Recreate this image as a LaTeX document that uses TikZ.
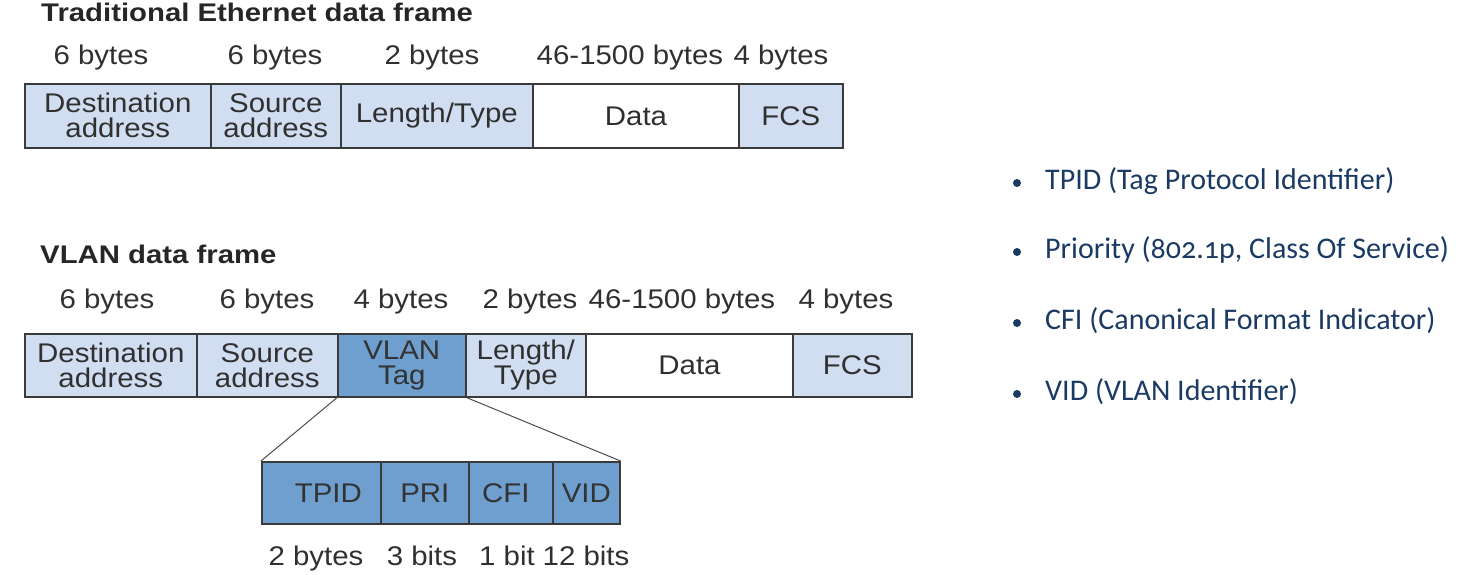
\documentclass[tikz,border=0pt]{standalone}
\usepackage{fontspec}
\setmainfont[FakeStretch=1.09]{Liberation Sans}
\newfontfamily\titlefont[FakeStretch=1.15]{Liberation Sans}
\newfontfamily\bulletfont[Numbers=OldStyle]{Carlito}
\definecolor{lightfill}{HTML}{D1DEF1}
\definecolor{midfill}{HTML}{6E9FCF}
\definecolor{framecol}{HTML}{3A3A3A}
\definecolor{txtcol}{HTML}{303030}
\definecolor{navy}{HTML}{1B3A63}
\tikzset{
  fld/.style={draw=framecol, line width=1.6pt, fill=lightfill, text=txtcol, inner sep=0pt,
    align=center, font=\fontsize{27}{27}\selectfont},
  datafld/.style={fld, fill=white, line width=2pt},
  tagfld/.style={fld, fill=midfill, text=black!80},
  sizelbl/.style={text=txtcol, inner sep=0pt, anchor=base, font=\fontsize{27}{27}\selectfont},
  ttl/.style={text=black!85, inner sep=0pt, anchor=base west, font=\titlefont\bfseries\fontsize{25.5}{25.5}\selectfont},
  bul/.style={text=navy, inner sep=0pt, anchor=west, font=\bulletfont\fontsize{30}{30}\selectfont},
  dot/.style={circle, fill=navy, inner sep=0pt, minimum size=8pt},
  zoomline/.style={draw=black!70, line width=1pt}
}
\newcommand{\fieldbox}[7]{% style, name, x1, y1, x2, y2, text
  \node[#1, minimum width=#5pt-#3pt, minimum height=#6pt-#4pt, anchor=north west] (#2) at (#3,#4) {#7};
}
\begin{document}
\begin{tikzpicture}[x=1pt,y=-1pt]
\useasboundingbox (0,0) rectangle (1462,575);
% Traditional frame
\node[ttl] (t1) at (41,22) {Traditional Ethernet data frame};
\node[sizelbl] (a1) at (101,65) {6 bytes};
\node[sizelbl] (a2) at (275,65) {6 bytes};
\node[sizelbl] (a3) at (432,65) {2 bytes};
\node[sizelbl] (a4) at (630,65) {46-1500 bytes};
\node[sizelbl] (a5) at (781,65) {4 bytes};
\fieldbox{fld}{td}{24}{83}{210}{147}{Destination\\[-2pt]address}
\fieldbox{fld}{ts}{210}{83}{340}{147}{Source\\[-2pt]address}
\fieldbox{fld}{tl}{340}{83}{532}{147}{Length/Type}
\fieldbox{fld}{tf}{738}{83}{842}{147}{FCS}
\fieldbox{datafld}{tdata}{532}{83}{738}{147}{Data}
% VLAN frame
\node[ttl] (t2) at (40,263) {VLAN data frame};
\node[sizelbl] (b1) at (107,308) {6 bytes};
\node[sizelbl] (b2) at (267,308) {6 bytes};
\node[sizelbl] (b3) at (401,308) {4 bytes};
\node[sizelbl] (b4) at (530,308) {2 bytes};
\node[sizelbl] (b5) at (682,308) {46-1500 bytes};
\node[sizelbl] (b6) at (846,308) {4 bytes};
\fieldbox{fld}{vd}{24}{333}{196}{396}{Destination\\[-2pt]address}
\fieldbox{fld}{vs}{196}{333}{337}{396}{Source\\[-2pt]address}
\fieldbox{fld}{vl}{465}{333}{585}{396}{Length/\\[-2pt]Type}
\fieldbox{fld}{vf}{792}{333}{911}{396}{FCS}
\fieldbox{datafld}{vdata}{585}{333}{792}{396}{Data}
\fieldbox{tagfld}{vt}{337}{333}{465}{396}{VLAN\\[-2pt]Tag}
% Tag breakdown
\fieldbox{tagfld}{sp}{261}{461}{380}{523}{\hspace*{14pt}TPID}
\fieldbox{tagfld}{sr}{380}{461}{468}{523}{PRI}
\fieldbox{tagfld}{sc}{468}{461}{552}{523}{CFI\hspace*{10pt}}
\fieldbox{tagfld}{sv}{552}{461}{619}{523}{VID}
\draw[zoomline] (vt.south west) -- (sp.north west);
\draw[zoomline] (vt.south east) -- (sv.north east);
\node[sizelbl] (c1) at (316,565) {2 bytes};
\node[sizelbl] (c2) at (422,565) {3 bits};
\node[sizelbl] (c3) at (507,565) {1 bit};
\node[sizelbl] (c4) at (586,565) {12 bits};
% Bullets
\node[dot] (d1) at (1017,183) {};
\node[dot] (d2) at (1017,252) {};
\node[dot] (d3) at (1017,323) {};
\node[dot] (d4) at (1017,394) {};
\node[bul] (e1) at (1045,181) {TPID (Tag Protocol Identifier)};
\node[bul] (e2) at (1045,250) {Priority (802.1p, Class Of Service)};
\node[bul] (e3) at (1045,321) {CFI (Canonical Format Indicator)};
\node[bul] (e4) at (1045,392) {VID (VLAN Identifier)};
\end{tikzpicture}
\end{document}
